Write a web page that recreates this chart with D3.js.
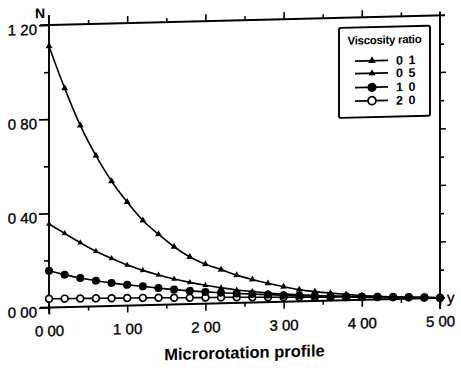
<!DOCTYPE html>
<html><head><meta charset="utf-8">
<script src="https://cdn.jsdelivr.net/npm/d3@7"></script>
<style>body{margin:0;background:#fff}svg{display:block}text{font-family:"Liberation Sans",Arial,sans-serif;fill:#000}</style>
</head><body>
<svg id="chart" width="461" height="368"></svg>
<script>
// ---- data ----
const xValues = [0,0.2,0.4,0.6,0.8,1.0,1.2,1.4,1.6,1.8,2.0,2.2,2.4,2.6,2.8,3.0,3.2,3.4,3.6,3.8,4.0,4.2,4.4,4.6,4.8,5.0];
const seriesNames = ["0 1","0 5","1 0","2 0"];
const ratio01 = [1.11,0.93,0.77,0.64,0.53,0.44,0.36,0.30,0.245,0.20,0.168,0.143,0.118,0.098,0.080,0.064,0.050,0.040,0.032,0.025,0.018,0.013,0.009,0.005,0.002,0.0];
const ratio05 = [0.355,0.313,0.272,0.234,0.202,0.172,0.148,0.127,0.108,0.092,0.078,0.066,0.055,0.047,0.039,0.033,0.028,0.023,0.019,0.016,0.013,0.010,0.007,0.005,0.003,0.0];
const ratio10 = [0.156,0.138,0.122,0.109,0.098,0.088,0.080,0.071,0.063,0.056,0.050,0.045,0.040,0.036,0.032,0.028,0.025,0.022,0.019,0.016,0.013,0.011,0.008,0.006,0.003,0.0];
const ratio20 = [0.037,0.036,0.035,0.034,0.033,0.032,0.031,0.030,0.0285,0.027,0.026,0.025,0.024,0.0225,0.021,0.0195,0.018,0.0165,0.015,0.0135,0.012,0.0105,0.009,0.0065,0.004,0.001];
const yMajorTicks = [0,0.4,0.8,1.2];
const yTickLabels = ["0 00","0 40","0 80","1 20"];
const yMinorTicks = [0.2,0.6,1.0];
const xMajorTicks = [0,1,2,3,4,5];
const xTickLabels = ["0 00","1 00","2 00","3 00","4 00","5 00"];
const xMinorTicks = [0.5,1.5,2.5,3.5,4.5];
const rightMajorTicks = [0.2,0.4,0.6,0.8];
const rightMinorTicks = [0.1,0.3,0.5,0.7,0.9];
const xTitle = "Microrotation profile";
const yTitle = "N";
const xEndLabel = "y";
const legendTitle = "Viscosity ratio";

const series = [
  {name: seriesNames[0], values: ratio01, sym: "tri", size: 20},
  {name: seriesNames[1], values: ratio05, sym: "tri", size: 15},
  {name: seriesNames[2], values: ratio10, sym: "dot", r: 4},
  {name: seriesNames[3], values: ratio20, sym: "open", r: 3.4}
];

// ---- layout ----
const svg = d3.select("#chart");
const L = 49, R = 440, T = 25, B = 307.5;
const x = d3.scaleLinear().domain([0,5]).range([L,R]);
const y = d3.scaleLinear().domain([0,1.2]).range([B,T]);
const y2 = d3.scaleLinear().domain([0,1]).range([B,T]);

// the scanned original is slightly sheared
const g = svg.append("g").attr("transform", `translate(${L},0) skewY(-1.4) translate(${-L},0)`);

// frame lines
const frame = g.append("g").attr("stroke","#000").attr("stroke-width",1.9).attr("fill","none");
frame.append("line").attr("x1",L).attr("x2",L).attr("y1",T-10).attr("y2",B+6);
frame.append("line").attr("x1",R).attr("x2",R).attr("y1",T-4).attr("y2",B+11);
frame.append("line").attr("x1",L-9).attr("x2",R+5).attr("y1",T).attr("y2",T);
frame.append("line").attr("x1",L-9).attr("x2",R+5).attr("y1",B).attr("y2",B);

function styleAxis(sel){
  sel.select(".domain").remove();
  sel.selectAll(".tick line").attr("stroke","#000").attr("stroke-width",1.6);
}
function styleLabels(sel){
  sel.selectAll("text").attr("font-size",15)
    .style("font-family","Liberation Sans, Arial, sans-serif")
    .attr("stroke","#000").attr("stroke-width",0.35);
}
// left axis
g.append("g").attr("transform",`translate(${L},0)`)
  .call(d3.axisLeft(y).tickValues(yMajorTicks).tickSize(10).tickPadding(2)
    .tickFormat((d,i)=>yTickLabels[i]))
  .call(styleAxis).call(styleLabels)
  .call(s=>s.selectAll("text").attr("dy","0.6em"));
g.append("g").attr("transform",`translate(${L},0)`)
  .call(d3.axisLeft(y).tickValues(yMinorTicks).tickSize(5).tickFormat(""))
  .call(styleAxis);
// bottom axis
g.append("g").attr("transform",`translate(0,${B})`)
  .call(d3.axisBottom(x).tickValues(xMajorTicks).tickSize(7).tickPadding(11)
    .tickFormat((d,i)=>xTickLabels[i]))
  .call(styleAxis).call(styleLabels);
g.append("g").attr("transform",`translate(0,${B})`)
  .call(d3.axisBottom(x).tickValues(xMinorTicks).tickSize(4).tickFormat(""))
  .call(styleAxis);
// top axis
g.append("g").attr("transform",`translate(0,${T})`)
  .call(d3.axisTop(x).tickValues(xMajorTicks.slice(1,5)).tickSize(7).tickFormat(""))
  .call(styleAxis);
g.append("g").attr("transform",`translate(0,${T})`)
  .call(d3.axisTop(x).tickValues(xMinorTicks).tickSize(4).tickFormat(""))
  .call(styleAxis);
// right axis
g.append("g").attr("transform",`translate(${R},0)`)
  .call(d3.axisRight(y2).tickValues(rightMajorTicks).tickSize(6).tickFormat(""))
  .call(styleAxis);
g.append("g").attr("transform",`translate(${R},0)`)
  .call(d3.axisRight(y2).tickValues(rightMinorTicks).tickSize(4).tickFormat(""))
  .call(styleAxis);

// titles
g.append("text").attr("x",(L+R)/2).attr("y",363).attr("text-anchor","middle")
  .attr("font-size",16.5).attr("font-weight","bold").text(xTitle);
g.append("text").attr("x",40).attr("y",18).attr("text-anchor","middle")
  .attr("font-size",14).attr("font-weight","bold").text(yTitle);
g.append("text").attr("x",R+7).attr("y",B+5).attr("font-size",15)
  .attr("stroke","#000").attr("stroke-width",0.35).text(xEndLabel);

// lines
const line = d3.line().x((d,i)=>x(xValues[i])).y(d=>y(d)).curve(d3.curveMonotoneX);
const plot = g.append("g");
function drawMarker(sel, s){
  if (s.sym === "tri") {
    sel.append("path").attr("d", d3.symbol(d3.symbolTriangle, s.size)()).attr("fill","#000");
  } else if (s.sym === "dot") {
    sel.append("circle").attr("r", s.r).attr("fill","#000");
  } else {
    sel.append("circle").attr("r", s.r).attr("fill","#fff").attr("stroke","#000").attr("stroke-width",1.7);
  }
}
series.slice().reverse().forEach(s=>{
  plot.append("path").datum(s.values).attr("d",line)
    .attr("fill","none").attr("stroke","#000").attr("stroke-width",1.6);
  s.values.forEach((v,i)=>{
    const m = plot.append("g").attr("transform",`translate(${x(xValues[i])},${y(v)})`);
    drawMarker(m, s);
  });
});

// legend
const lg = g.append("g");
lg.append("rect").attr("x",339).attr("y",35).attr("width",91).attr("height",90).attr("rx",2)
  .attr("fill","#fff").attr("stroke","#000").attr("stroke-width",1.9);
lg.append("text").attr("x",384.5).attr("y",52).attr("text-anchor","middle")
  .attr("font-size",11.5).attr("font-weight","bold").attr("letter-spacing",-0.3).text(legendTitle);
const legendY = [68.6, 81.2, 95.2, 108.6];
series.forEach((s,i)=>{
  const row = lg.append("g").attr("transform",`translate(0,${legendY[i]})`);
  row.append("line").attr("x1",355).attr("x2",388).attr("stroke","#000").attr("stroke-width",1.7);
  const m = row.append("g").attr("transform","translate(372,0)");
  drawMarker(m, i < 2 ? {sym:"tri", size: s.size + 6} : {sym: s.sym, r: s.r + 0.6});
  row.append("text").attr("x",396).attr("y",0).attr("dy","0.36em")
    .attr("font-size",12.5).attr("font-weight","bold").attr("letter-spacing",1).text(s.name);
});
</script>
</body></html>
